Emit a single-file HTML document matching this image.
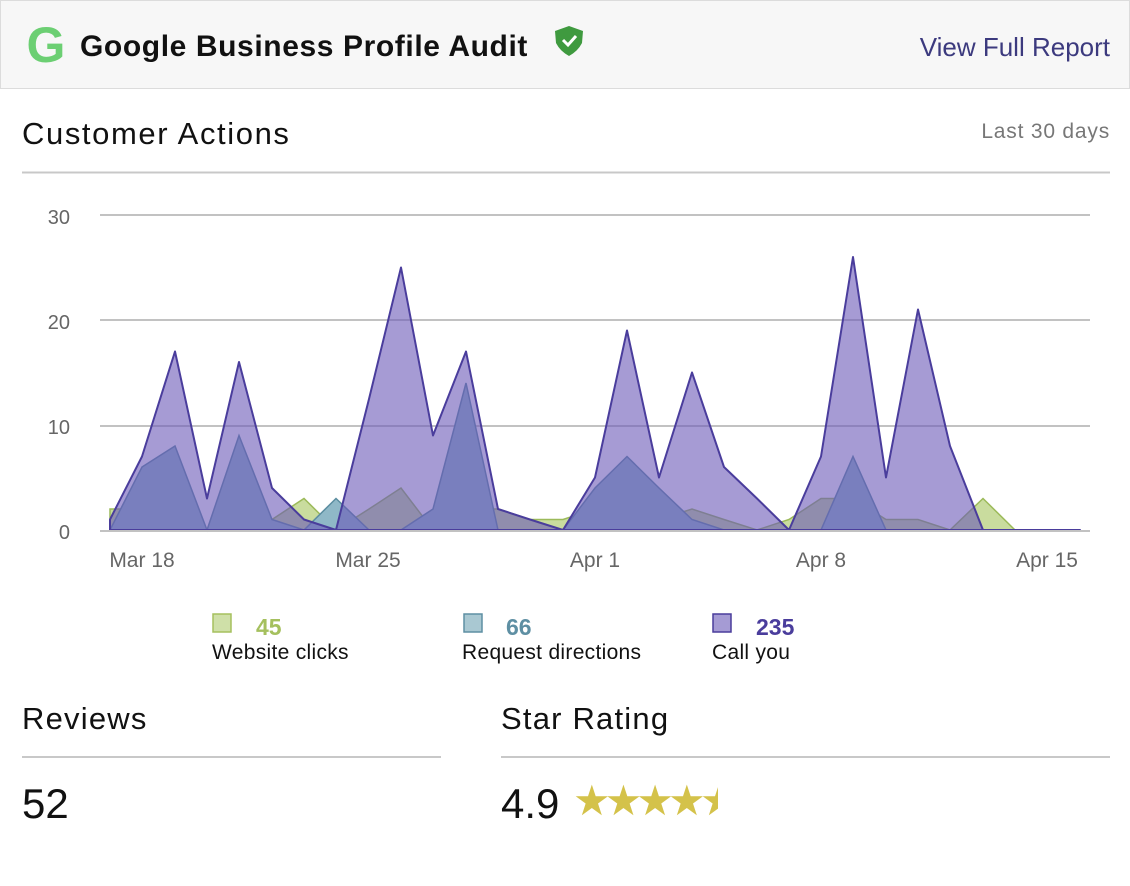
<!DOCTYPE html>
<html><head><meta charset="utf-8"><style>
body{margin:0;width:1130px;height:886px;background:#fff;overflow:hidden;font-family:"Liberation Sans",sans-serif}
</style></head><body>
<svg width="1130" height="886" xmlns="http://www.w3.org/2000/svg" style="position:absolute;left:0;top:0;font-family:'Liberation Sans',sans-serif">
<rect x="0.5" y="0.5" width="1129" height="88" fill="#f7f7f7" stroke="#dcdcdc"/>
<text x="46" y="62" font-size="50" font-weight="bold" fill="#6ccf73" text-anchor="middle">G</text>
<text x="80" y="56" font-size="30" font-weight="bold" fill="#111" letter-spacing="0.6">Google Business Profile Audit</text>
<path d="M569 26 L583 31 L582 43 Q578 51 569 56 Q560 51 556 43 L555 31 Z" fill="#3f9a3f"/>
<path d="M563 40 L568 45 L576 36" stroke="#fff" stroke-width="3" fill="none"/>
<text x="1110" y="56" font-size="26" fill="#3c3a7e" text-anchor="end">View Full Report</text>
<text x="22" y="144" font-size="31" fill="#111" letter-spacing="1.6">Customer Actions</text>
<text x="1110" y="138" font-size="21" fill="#777" text-anchor="end" letter-spacing="0.8">Last 30 days</text>
<line x1="22" y1="172.5" x2="1110" y2="172.5" stroke="#c8c8c8" stroke-width="2"/>
<g stroke="#c2c2c2" stroke-width="2">
<line x1="100" y1="215" x2="1090" y2="215"/><line x1="100" y1="320" x2="1090" y2="320"/><line x1="100" y1="426" x2="1090" y2="426"/>
</g>
<g font-size="20" fill="#666" text-anchor="end">
<text x="70" y="224">30</text><text x="70" y="329">20</text><text x="70" y="434">10</text><text x="70" y="539">0</text>
</g>
<polygon fill="#c9dc9e" stroke="#9cba5a" stroke-width="1.5" points="110,530 110,509 142,509 175,477.5 207,530 239,509 272,519.5 304,498.5 336,530 369,509 401,488 433,530 466,509 498,509 530,519.5 563,519.5 595,509 627,530 659,519.5 692,509 724,519.5 757,530 789,519.5 821,498.5 853,498.5 886,519.5 918,519.5 950,530 983,498.5 1015,530 1080,530"/>
<polygon fill="#8fb8c7" stroke="#5b8da0" stroke-width="1.5" points="110,530 142,467 175,446 207,530 239,435.5 272,519.5 304,530 336,498.5 369,530 401,530 433,509 466,383 498,530 530,530 563,530 595,488 627,456.5 659,488 692,519.5 724,530 757,530 789,530 821,530 853,456.5 886,530 918,530 950,530 983,530 1080,530"/>
<polygon fill="#6a59b8" fill-opacity="0.6" stroke="#4a3d9c" stroke-width="2" stroke-linejoin="round" points="110,530 110,519.5 142,456.5 175,351.5 207,498.5 239,362 272,488 304,519.5 336,530 369,399 401,267.5 433,435.5 466,351.5 498,509 530,519.5 563,530 595,477.5 627,330.5 659,477.5 692,372.5 724,467 757,498.5 789,530 821,456.5 853,257 886,477.5 918,309.5 950,446 983,530 1015,530 1047,530 1080,530"/>
<line x1="100" y1="531" x2="1090" y2="531" stroke="#c2c2c2" stroke-width="2"/>
<g font-size="21" fill="#666" text-anchor="middle">
<text x="142" y="567">Mar 18</text><text x="368" y="567">Mar 25</text><text x="595" y="567">Apr 1</text><text x="821" y="567">Apr 8</text><text x="1047" y="567">Apr 15</text>
</g>
<rect x="213" y="614" width="18" height="18" fill="#cfe0a8" stroke="#a5c05e" stroke-width="1.5"/>
<text x="256" y="635" font-size="23" font-weight="bold" fill="#a5c05e">45</text>
<text x="212" y="659" font-size="21" fill="#111" letter-spacing="0.3">Website clicks</text>
<rect x="464" y="614" width="18" height="18" fill="#a9c8d2" stroke="#5e8fa3" stroke-width="1.5"/>
<text x="506" y="635" font-size="23" font-weight="bold" fill="#5e8fa3">66</text>
<text x="462" y="659" font-size="21" fill="#111" letter-spacing="0.3">Request directions</text>
<rect x="713" y="614" width="18" height="18" fill="#a59bd4" stroke="#4a3d9c" stroke-width="1.5"/>
<text x="756" y="635" font-size="23" font-weight="bold" fill="#4a3d9c">235</text>
<text x="712" y="659" font-size="21" fill="#111" letter-spacing="0.3">Call you</text>
<text x="22" y="729" font-size="31" fill="#111" letter-spacing="1.2">Reviews</text>
<text x="501" y="729" font-size="31" fill="#111" letter-spacing="1.2">Star Rating</text>
<line x1="22" y1="757" x2="441" y2="757" stroke="#c8c8c8" stroke-width="2"/>
<line x1="501" y1="757" x2="1110" y2="757" stroke="#c8c8c8" stroke-width="2"/>
<text x="22" y="818" font-size="42" fill="#111">52</text>
<text x="501" y="818" font-size="42" fill="#111">4.9</text>
<text x="573" y="815" font-size="42" fill="#d4c24a" letter-spacing="-6">★★★★</text>
<svg x="700" y="770" width="18" height="50"><text x="0" y="45" font-size="42" fill="#d4c24a">★</text></svg>
</svg>
</body></html>
